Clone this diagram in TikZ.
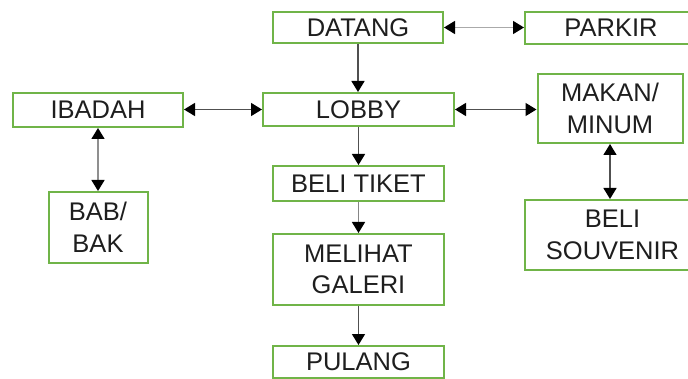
\documentclass[tikz,border=0pt]{standalone}
\usepackage{fontspec}
\setmainfont{Liberation Sans}
\usetikzlibrary{arrows.meta}
\definecolor{boxgreen}{RGB}{112,180,72}
\definecolor{linedark}{RGB}{80,80,80}
\definecolor{linelight}{RGB}{170,170,170}
\definecolor{txt}{RGB}{30,30,30}
\tikzset{
  fbox/.style={draw=boxgreen, line width=2pt, fill=white, rectangle, inner sep=0pt,
    align=center, text=txt, font=\fontsize{25.5}{31.5}\selectfont},
  conn/.style={draw=linedark, line width=1.5pt, -{Triangle[length=11pt,width=13pt,color=black]}},
  biconn/.style={draw=linedark, line width=1.5pt, {Triangle[length=11pt,width=13pt,color=black]}-{Triangle[length=11pt,width=13pt,color=black]}},
}
\begin{document}
\begin{tikzpicture}[x=1pt,y=-1pt]
\clip (0,0) rectangle (688,379);
\fill[white] (0,0) rectangle (688,379);
\node[fbox, minimum width=170pt, minimum height=31pt] (datang) at (358,27.5) {DATANG};
\node[fbox, minimum width=172pt, minimum height=32pt] (parkir) at (611,28) {PARKIR};
\node[fbox, minimum width=191pt, minimum height=33pt] (lobby) at (358.5,109.5) {LOBBY};
\node[fbox, minimum width=170pt, minimum height=34pt] (ibadah) at (98,110) {IBADAH};
\node[fbox, minimum width=145pt, minimum height=69pt] (makan) at (610,108.5) {MAKAN/\\MINUM};
\node[fbox, minimum width=99pt, minimum height=71pt] (bab) at (98,227.5) {BAB/\\BAK};
\node[fbox, minimum width=171pt, minimum height=35pt] (tiket) at (358.5,183.5) {BELI TIKET};
\node[fbox, minimum width=171pt, minimum height=71pt] (galeri) at (358.5,269.5) {MELIHAT\\GALERI};
\node[fbox, minimum width=171pt, minimum height=32pt] (pulang) at (358.5,362) {PULANG};
\node[fbox, minimum width=175pt, minimum height=70pt] (souvenir) at (612.5,235) {BELI\\SOUVENIR};

\draw[conn] (datang.south) -- (datang.south |- lobby.north);
\draw[biconn, draw=linelight] (datang.east) -- (datang.east -| parkir.west);
\draw[biconn] (lobby.west) -- (lobby.west -| ibadah.east);
\draw[biconn] (lobby.east) -- (lobby.east -| makan.west);
\draw[biconn, draw=linelight!70!linedark] (ibadah.south) -- (ibadah.south |- bab.north);
\draw[biconn] (makan.south) -- (makan.south |- souvenir.north);
\draw[conn] (lobby.south) -- (lobby.south |- tiket.north);
\draw[conn, draw=linelight!60!linedark] (tiket.south) -- (galeri.north);
\draw[conn] (galeri.south) -- (pulang.north);
\end{tikzpicture}
\end{document}
